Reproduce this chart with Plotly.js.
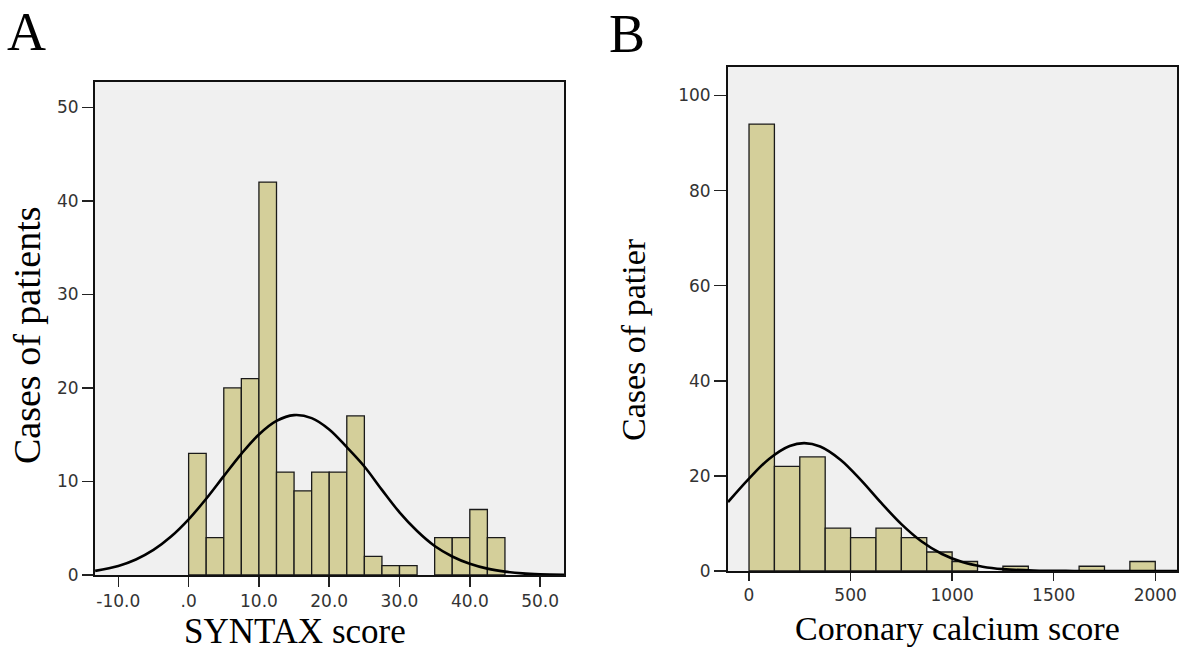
<!DOCTYPE html>
<html>
<head>
<meta charset="utf-8">
<script src="https://cdn.plot.ly/plotly-3.0.1.min.js"></script>
<style>
  html, body { margin: 0; padding: 0; background: #ffffff; }
  #chart { width: 1182px; height: 654px; }
</style>
</head>
<body>
<div id="chart"></div>
<script>
// ---------- Panel A: SYNTAX score ----------
const syntaxBinLeft = [0, 2.5, 5, 7.5, 10, 12.5, 15, 17.5, 20, 22.5, 25, 27.5, 30, 35, 37.5, 40, 42.5];
const syntaxCounts  = [13, 4, 20, 21, 42, 11, 9, 11, 11, 17, 2, 1, 1, 4, 4, 7, 4];
const syntaxBinWidth = 2.5;
const syntaxCurveX = [-13.3, -10, -7.5, -5, -2.5, 0, 2.5, 5, 7.5, 10, 12.5, 15, 17.5, 20, 22.5, 25, 27.5, 30, 32.5, 35, 37.5, 40, 42.5, 45, 47.5, 50, 53.4];
const syntaxCurveY = [0.44, 0.97, 1.66, 2.68, 4.11, 5.95, 8.15, 10.57, 12.95, 15.02, 16.47, 17.09, 16.77, 15.56, 13.66, 11.6, 9.1, 6.7, 4.7, 3.1, 1.98, 1.2, 0.68, 0.36, 0.17, 0.08, 0.03];
const syntaxTickVals = [-10, 0, 10, 20, 30, 40, 50];
const syntaxTickText = ['-10.0', '.0', '10.0', '20.0', '30.0', '40.0', '50.0'];
const syntaxYTicks = [0, 10, 20, 30, 40, 50];

// ---------- Panel B: Coronary calcium score ----------
const cacBinLeft = [0, 125, 250, 375, 500, 625, 750, 875, 1000, 1250, 1625, 1875];
const cacCounts  = [94, 22, 24, 9, 7, 9, 7, 4, 2, 1, 1, 2];
const cacBinWidth = 125;
const cacCurveX = [-103.5, 0, 100, 200, 272, 350, 450, 550, 650, 750, 850, 950, 1050, 1150, 1250, 1400, 1600, 1800, 2000, 2107];
const cacCurveY = [14.5, 19.44, 23.62, 26.29, 26.9, 26.19, 23.41, 19.16, 14.36, 9.86, 6.2, 3.57, 1.88, 0.91, 0.4, 0.1, 0.01, 0, 0, 0];
const cacTickVals = [0, 500, 1000, 1500, 2000];
const cacYTicks = [0, 20, 40, 60, 80, 100];

const W = 1182, H = 654;
const px = v => v / W;
const py = v => 1 - v / H;

const barColor = '#d4cf9a';
const barLine = {color: '#1a1a1a', width: 1.3};

const traces = [
  {
    type: 'bar', x: syntaxBinLeft.map(v => v + syntaxBinWidth / 2), y: syntaxCounts,
    width: syntaxBinWidth, marker: {color: barColor, line: barLine},
    xaxis: 'x', yaxis: 'y', hoverinfo: 'skip', showlegend: false
  },
  {
    type: 'scatter', mode: 'lines', x: syntaxCurveX, y: syntaxCurveY,
    line: {color: '#000', width: 2.6, shape: 'spline', smoothing: 1},
    xaxis: 'x', yaxis: 'y', hoverinfo: 'skip', showlegend: false
  },
  {
    type: 'bar', x: cacBinLeft.map(v => v + cacBinWidth / 2), y: cacCounts,
    width: cacBinWidth, marker: {color: barColor, line: barLine},
    xaxis: 'x2', yaxis: 'y2', hoverinfo: 'skip', showlegend: false
  },
  {
    type: 'scatter', mode: 'lines', x: cacCurveX, y: cacCurveY,
    line: {color: '#000', width: 2.6, shape: 'spline', smoothing: 1},
    xaxis: 'x2', yaxis: 'y2', hoverinfo: 'skip', showlegend: false
  }
];

const tickFont = {family: 'DejaVu Sans, Arial, sans-serif', size: 17, color: '#333'};
const axisCommon = {
  showgrid: false, zeroline: false, showline: true, mirror: true,
  linecolor: '#111', linewidth: 2, ticks: 'outside', tickcolor: '#222',
  tickwidth: 1.5, tickfont: tickFont, fixedrange: true
};

const layout = {
  width: W, height: H,
  margin: {l: 0, r: 0, t: 0, b: 0},
  paper_bgcolor: '#ffffff',
  plot_bgcolor: '#f0f0f0',
  bargap: 0,
  showlegend: false,
  xaxis: Object.assign({}, axisCommon, {
    domain: [px(95), px(564)], range: [-13.32, 53.4],
    tickmode: 'array', tickvals: syntaxTickVals, ticktext: syntaxTickText, ticklen: 10,
    anchor: 'y'
  }),
  yaxis: Object.assign({}, axisCommon, {
    domain: [py(575), py(82)], range: [0, 52.7],
    tickmode: 'array', tickvals: syntaxYTicks, ticklen: 11,
    anchor: 'x'
  }),
  xaxis2: Object.assign({}, axisCommon, {
    domain: [px(728), px(1177)], range: [-103.5, 2107],
    tickmode: 'array', tickvals: cacTickVals, ticklen: 8,
    anchor: 'y2'
  }),
  yaxis2: Object.assign({}, axisCommon, {
    domain: [py(571), py(67)], range: [0, 106],
    tickmode: 'array', tickvals: cacYTicks, ticklen: 12,
    anchor: 'x2'
  }),
  annotations: [
    {text: 'A', xref: 'paper', yref: 'paper', x: px(26), y: py(32), showarrow: false,
     xanchor: 'center', yanchor: 'middle',
     font: {family: 'Liberation Serif, Times New Roman, serif', size: 54, color: '#000'}},
    {text: 'B', xref: 'paper', yref: 'paper', x: px(627), y: py(34), showarrow: false,
     xanchor: 'center', yanchor: 'middle',
     font: {family: 'Liberation Serif, Times New Roman, serif', size: 54, color: '#000'}},
    {text: 'Cases of patients', xref: 'paper', yref: 'paper', x: px(27), y: py(335), showarrow: false,
     textangle: -90, xanchor: 'center', yanchor: 'middle',
     font: {family: 'Liberation Serif, Times New Roman, serif', size: 38, color: '#000'}},
    {text: 'Cases of patier', xref: 'paper', yref: 'paper', x: px(634), y: py(340), showarrow: false,
     textangle: -90, xanchor: 'center', yanchor: 'middle',
     font: {family: 'Liberation Serif, Times New Roman, serif', size: 34, color: '#000'}},
    {text: 'SYNTAX score', xref: 'paper', yref: 'paper', x: px(295), y: py(631), showarrow: false,
     xanchor: 'center', yanchor: 'middle',
     font: {family: 'Liberation Serif, Times New Roman, serif', size: 35, color: '#000'}},
    {text: 'Coronary calcium score', xref: 'paper', yref: 'paper', x: px(957), y: py(628), showarrow: false,
     xanchor: 'center', yanchor: 'middle',
     font: {family: 'Liberation Serif, Times New Roman, serif', size: 34, color: '#000'}}
  ]
};

Plotly.newPlot('chart', traces, layout, {displayModeBar: false, staticPlot: true});
</script>
</body>
</html>
